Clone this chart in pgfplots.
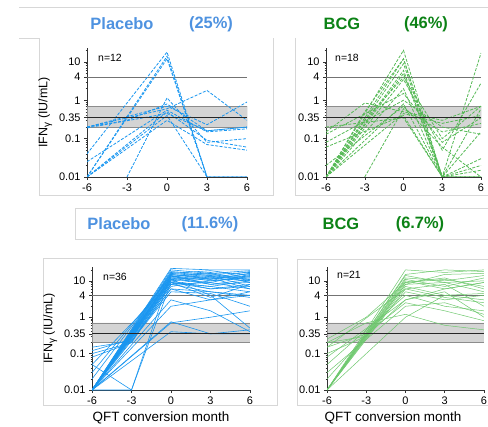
\documentclass[border=0pt]{standalone}
\usepackage{fontspec}
\setmainfont{Liberation Sans}
\usepackage{pgfplots}
\pgfplotsset{compat=1.18}

\definecolor{tblue}{RGB}{78,146,224}
\definecolor{tgreen}{RGB}{12,130,22}
\definecolor{lblue}{RGB}{25,150,240}
\definecolor{lgreenA}{RGB}{85,185,85}
\definecolor{lgreenB}{RGB}{110,200,110}
\definecolor{card}{RGB}{215,215,215}

\tikzset{
  qpd/.style={lblue, line width=0.8bp, dash pattern=on 3bp off 1.5bp},
  qbd/.style={lgreenA, line width=0.8bp, dash pattern=on 3bp off 1.5bp},
  qps/.style={lblue, line width=0.6bp},
  qbs/.style={lgreenB, line width=0.5bp},
}
\pgfplotsset{
  every axis/.append style={
    scale only axis, xmin=-6, xmax=6, ymin=0.01,
    axis lines*=left,
    axis line style={black!80, line width=0.6bp},
    xtick={-6,-3,0,3,6}, xticklabels={-6,-3,0,3,6},
    tick align=outside, major tick length=3bp, minor tick length=1.5bp,
    tick style={black!80, line width=0.5bp},
    tick label style={font=\fontsize{11}{12}\selectfont},
    ylabel style={font=\fontsize{12.5}{13}\selectfont},
  },
}

\newcommand{\refband}{%
  \addplot[fill=black!17, draw=black!45, line width=0.5bp]
    coordinates {(-6,0.2)(6,0.2)(6,0.7)(-6,0.7)(-6,0.2)};
  \addplot[black!55, line width=0.7bp] coordinates {(-6,4)(6,4)};
}
\newcommand{\refline}{%
  \addplot[black!85, line width=1bp] coordinates {(-6,0.35)(6,0.35)};
}
\newcommand{\ifn}{IFN\raisebox{-0.45ex}{\fontsize{10}{10}\selectfont γ} (IU/mL)}

\begin{document}
\begin{tikzpicture}
\path[use as bounding box] (0bp,0bp) rectangle (488bp,427bp);

% frames
\begin{scope}[x=1bp,y=1bp]
\draw[card, line width=0.7bp] (19,420) -- (488,420);
\draw[card, line width=0.7bp] (19,389) -- (39,389) -- (39,232) -- (273,232) -- (273,389);
\draw[card, line width=0.7bp] (295,389) -- (295,232) -- (488,232);
\draw[card, line width=0.7bp] (488,219) -- (75,219) -- (75,188) -- (488,188);
\draw[card, line width=0.7bp] (43,169) rectangle (277,22);
\draw[card, line width=0.7bp] (488,168) -- (297,168) -- (297,22) -- (488,22);

% titles
\begin{scope}[font=\fontsize{16.5}{18}\selectfont\bfseries]
\node[tblue] at (122,403) {Placebo};
\node[tblue] at (211,403) {(25\%)};
\node[tgreen] at (342,403) {BCG};
\node[tgreen] at (426,403) {(46\%)};
\node[tblue] at (119,203) {Placebo};
\node[tblue] at (210,203) {(11.6\%)};
\node[tgreen] at (341,203) {BCG};
\node[tgreen] at (420,203) {(6.7\%)};
\end{scope}

% n labels and x labels
\begin{scope}[font=\fontsize{10.5}{12}\selectfont]
\node at (110,369) {n=12};
\node at (347,369) {n=18};
\node at (115,150) {n=36};
\node at (349,152) {n=21};
\end{scope}
\node[font=\fontsize{13.5}{15}\selectfont] at (161,9) {QFT conversion month};
\node[font=\fontsize{13.5}{15}\selectfont] at (393,9) {QFT conversion month};
\end{scope}

% top-left: placebo, n=12
\begin{axis}[ymode=log, ymax=23,
  ytick={0.01,0.1,0.35,1,4,10}, yticklabels={0.01,0.1,0.35,1,4,10},
  minor ytick={0.02,0.03,0.04,0.05,0.06,0.07,0.08,0.09,0.2,0.3,0.4,0.5,0.6,0.7,0.8,0.9,2,3,5,6,7,8,9,20},
  at={(87bp,250bp)}, anchor=south west, width=160bp, height=129bp,
  ylabel={\ifn}]
\refband
\addplot[qpd] coordinates {(-6,0.04)(0,18)(3,0.01)(6,0.01)};
\addplot[qpd] coordinates {(-6,0.01)(0,14)(3,0.01)(6,0.01)};
\addplot[qpd] coordinates {(-6,0.01)(0,12)(3,0.01)};
\addplot[qpd] coordinates {(-6,0.2)(0,0.6)(3,1.8)(6,0.3)};
\addplot[qpd] coordinates {(-6,0.2)(0,0.7)(3,0.23)(6,0.9)};
\addplot[qpd] coordinates {(-6,0.19)(0,0.45)(3,0.16)(6,0.2)};
\addplot[qpd] coordinates {(-3,0.01)(0,1.15)(3,0.08)(6,0.1)};
\addplot[qpd] coordinates {(-6,0.01)(0,0.5)(3,0.09)(6,0.06)};
\addplot[qpd] coordinates {(-6,0.01)(0,0.4)(3,0.01)(6,0.01)};
\addplot[qpd] coordinates {(-6,0.025)(0,0.55)(3,0.15)(6,0.18)};
\addplot[qpd] coordinates {(-6,0.01)(0,0.3)(3,0.07)(6,0.05)};
\addplot[qpd] coordinates {(-6,0.2)(-3,0.3)(0,0.8)(3,0.16)(6,0.2)};
\refline
\end{axis}

% top-right: BCG, n=18
\begin{axis}[ymode=log, ymax=23,
  ytick={0.01,0.1,0.35,1,4,10}, yticklabels={0.01,0.1,0.35,1,4,10},
  minor ytick={0.02,0.03,0.04,0.05,0.06,0.07,0.08,0.09,0.2,0.3,0.4,0.5,0.6,0.7,0.8,0.9,2,3,5,6,7,8,9,20},
  at={(326bp,250bp)}, anchor=south west, width=155bp, height=129bp]
\refband
\addplot[qbd] coordinates {(-6,0.01)(0,20)(3,0.01)(6,0.01)};
\addplot[qbd] coordinates {(-6,0.01)(0,12)(3,0.01)(6,0.02)};
\addplot[qbd] coordinates {(-6,0.01)(0,9)(3,0.01)(6,0.03)};
\addplot[qbd] coordinates {(-6,0.01)(0,5)(3,0.01)(6,17)};
\addplot[qbd] coordinates {(-6,0.01)(0,3.5)(3,0.05)(6,2.8)};
\addplot[qbd] coordinates {(-6,0.01)(0,2)(3,0.01)(6,0.6)};
\addplot[qbd] coordinates {(-6,0.13)(0,1.5)(3,0.08)(6,0.35)};
\addplot[qbd] coordinates {(-6,0.08)(0,1)(3,0.2)(6,0.13)};
\addplot[qbd] coordinates {(-6,0.15)(-3,0.85)(0,0.5)(3,0.3)(6,0.7)};
\addplot[qbd] coordinates {(-6,0.01)(-3,0.5)(0,12)(3,0.01)(6,0.01)};
\addplot[qbd] coordinates {(-3,0.01)(0,0.6)(3,0.15)(6,0.25)};
\addplot[qbd] coordinates {(-6,0.01)(0,0.8)(3,0.01)(6,0.015)};
\addplot[qbd] coordinates {(-6,0.01)(0,0.45)(3,0.25)(6,0.4)};
\addplot[qbd] coordinates {(-6,0.02)(0,0.7)(3,0.06)(6,0.01)};
\addplot[qbd] coordinates {(-6,0.01)(0,6)(3,0.01)(6,0.01)};
\addplot[qbd] coordinates {(-6,0.06)(0,0.4)(3,0.01)(6,0.15)};
\addplot[qbd] coordinates {(-6,0.01)(-3,0.3)(0,4)(3,0.1)(6,0.7)};
\addplot[qbd] coordinates {(-6,0.2)(0,0.35)(3,0.01)(6,0.01)};
\refline
\end{axis}

% bottom-left: placebo, n=36
\begin{axis}[ymode=log, ymax=24,
  ytick={0.01,0.1,0.35,1,4,10}, yticklabels={0.01,0.1,0.35,1,4,10},
  minor ytick={0.02,0.03,0.04,0.05,0.06,0.07,0.08,0.09,0.2,0.3,0.4,0.5,0.6,0.7,0.8,0.9,2,3,5,6,7,8,9,20},
  at={(92bp,37bp)}, anchor=south west, width=158bp, height=123bp,
  ylabel={\ifn}]
\refband
\addplot[qps] coordinates {(-6,0.01)(0,22)(3,20)(6,20)};
\addplot[qps] coordinates {(-6,0.01)(0,18)(3,15)(6,17)};
\addplot[qps] coordinates {(-6,0.01)(0,16)(3,19)(6,14)};
\addplot[qps] coordinates {(-6,0.01)(0,15)(3,12)(6,18)};
\addplot[qps] coordinates {(-6,0.01)(0,14)(3,10)(6,12)};
\addplot[qps] coordinates {(-6,0.01)(0,13)(3,16)(6,9)};
\addplot[qps] coordinates {(-6,0.01)(0,12)(3,8)(6,11)};
\addplot[qps] coordinates {(-6,0.01)(0,12)(3,14)(6,7)};
\addplot[qps] coordinates {(-6,0.01)(0,11)(3,9)(6,15)};
\addplot[qps] coordinates {(-6,0.01)(0,10)(3,6)(6,8)};
\addplot[qps] coordinates {(-6,0.01)(0,10)(3,12)(6,6)};
\addplot[qps] coordinates {(-6,0.01)(0,9)(3,7)(6,10)};
\addplot[qps] coordinates {(-6,0.01)(0,8)(3,5)(6,4)};
\addplot[qps] coordinates {(-6,0.01)(0,7)(3,10)(6,13)};
\addplot[qps] coordinates {(-6,0.01)(0,6)(3,3)(6,5)};
\addplot[qps] coordinates {(-6,0.01)(0,5)(3,4.5)(6,2)};
\addplot[qps] coordinates {(-6,0.02)(0,15)(3,11)(6,16)};
\addplot[qps] coordinates {(-6,0.03)(0,13)(3,17)(6,10)};
\addplot[qps] coordinates {(-6,0.05)(0,9)(3,6)(6,7)};
\addplot[qps] coordinates {(-6,0.08)(-3,0.2)(0,11)(3,13)(6,12)};
\addplot[qps] coordinates {(-6,0.1)(-3,0.2)(0,8)(3,9)(6,6)};
\addplot[qps] coordinates {(-6,0.12)(-3,0.25)(0,14)(3,8)(6,9)};
\addplot[qps] coordinates {(-6,0.15)(-3,0.22)(0,6)(3,5)(6,3.5)};
\addplot[qps] coordinates {(-6,0.01)(-3,0.01)(0,16)(3,13)(6,11)};
\addplot[qps] coordinates {(-6,0.01)(0,3)(3,1.5)(6,0.4)};
\addplot[qps] coordinates {(-6,0.01)(0,2)(3,3)(6,4)};
\addplot[qps] coordinates {(-6,0.01)(0,0.7)(3,1)(6,1.5)};
\addplot[qps] coordinates {(-6,0.01)(0,0.4)(3,0.35)(6,0.45)};
\addplot[qps] coordinates {(-6,0.01)(0,0.75)(3,0.35)(6,0.35)};
\addplot[qps] coordinates {(-6,0.01)(0,11)(3,4)(6,0.5)};
\addplot[qps] coordinates {(-6,0.01)(0,20)(3,16)(6,19)};
\addplot[qps] coordinates {(-6,0.01)(0,17)(3,14)(6,13)};
\addplot[qps] coordinates {(-6,0.01)(0,12)(3,11)(6,16)};
\addplot[qps] coordinates {(-6,0.05)(-3,0.01)(0,9)(3,7)(6,5)};
\addplot[qps] coordinates {(-6,0.01)(0,8)(3,12)(6,10)};
\addplot[qps] coordinates {(-6,0.01)(0,9)(3,3.5)(6,8)};
\refline
\end{axis}

% bottom-right: BCG, n=21
\begin{axis}[ymode=log, ymax=24,
  ytick={0.01,0.1,0.35,1,4,10}, yticklabels={0.01,0.1,0.35,1,4,10},
  minor ytick={0.02,0.03,0.04,0.05,0.06,0.07,0.08,0.09,0.2,0.3,0.4,0.5,0.6,0.7,0.8,0.9,2,3,5,6,7,8,9,20},
  at={(327bp,37bp)}, anchor=south west, width=157bp, height=123bp]
\refband
\addplot[qbs] coordinates {(-6,0.01)(0,20)(3,17)(6,20)};
\addplot[qbs] coordinates {(-6,0.01)(0,15)(3,20)(6,18)};
\addplot[qbs] coordinates {(-6,0.01)(0,12)(3,10)(6,14)};
\addplot[qbs] coordinates {(-6,0.01)(0,10)(3,6)(6,9)};
\addplot[qbs] coordinates {(-6,0.01)(0,9)(3,12)(6,6)};
\addplot[qbs] coordinates {(-6,0.01)(0,7)(3,4)(6,3)};
\addplot[qbs] coordinates {(-6,0.01)(0,6)(3,8)(6,2)};
\addplot[qbs] coordinates {(-6,0.02)(0,5)(3,3)(6,4)};
\addplot[qbs] coordinates {(-6,0.05)(0,4)(3,2)(6,1.5)};
\addplot[qbs] coordinates {(-6,0.08)(0,3)(3,5)(6,1)};
\addplot[qbs] coordinates {(-6,0.15)(-3,0.35)(0,2.5)(3,1.5)(6,0.8)};
\addplot[qbs] coordinates {(-6,0.2)(-3,0.7)(0,1.2)(3,0.6)(6,0.45)};
\addplot[qbs] coordinates {(-6,0.25)(-3,1)(0,9)(3,11)(6,7)};
\addplot[qbs] coordinates {(-6,0.01)(0,11)(3,7)(6,12)};
\addplot[qbs] coordinates {(-6,0.1)(-3,0.3)(0,8)(3,9)(6,5)};
\addplot[qbs] coordinates {(-6,0.01)(0,14)(3,9)(6,10)};
\addplot[qbs] coordinates {(-6,0.03)(0,2)(3,2.5)(6,1.2)};
\addplot[qbs] coordinates {(-6,0.01)(0,8)(3,15)(6,16)};
\addplot[qbs] coordinates {(-6,0.15)(0,6)(3,3.5)(6,2.5)};
\addplot[qbs] coordinates {(-6,0.01)(0,1)(3,4)(6,4.5)};
\addplot[qbs] coordinates {(-6,0.2)(-3,0.3)(0,3)(3,6)(6,9)};
\refline
\end{axis}
\end{tikzpicture}
\end{document}
